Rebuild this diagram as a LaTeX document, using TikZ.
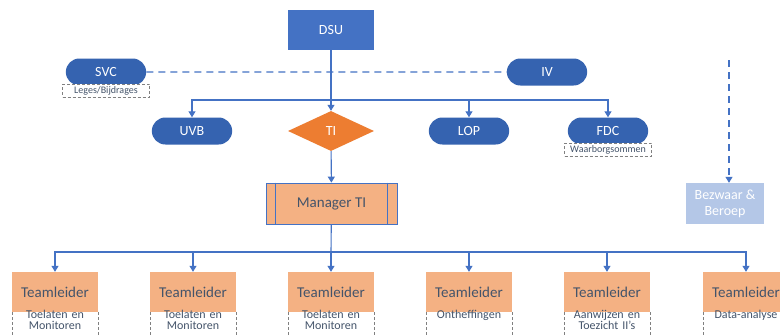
\documentclass[tikz,border=0pt]{standalone}
\usepackage{fontspec}
\setmainfont{Carlito}
\usetikzlibrary{arrows.meta, shapes.geometric, shapes.misc, calc}
\definecolor{dsublue}{HTML}{4472C4}
\definecolor{pillblue}{HTML}{3563B0}
\definecolor{tiorange}{HTML}{ED7D31}
\definecolor{mgrorange}{HTML}{F4B183}
\definecolor{bzwblue}{HTML}{B4C7E7}
\definecolor{tltext}{HTML}{44546A}
\begin{document}
\begin{tikzpicture}[x=1pt, y=-1pt, >={Triangle[length=6pt,width=7pt]},
        line/.style={draw=dsublue, line width=1.1pt},
        pill/.style={rounded rectangle, fill=pillblue, text=white, minimum width=87pt, minimum height=27pt, font=\fontsize{14}{16}\selectfont},
        tag/.style={draw=gray, densely dashed, fill=white, minimum width=87pt, minimum height=13pt, inner sep=0pt, text=tltext, font=\fontsize{10}{10}\selectfont},
        leader/.style={fill=mgrorange, text=tltext, minimum width=86pt, minimum height=40pt, font=\fontsize{15}{17}\selectfont},
        task/.style={text=tltext, text width=86pt, align=center, inner sep=0pt, anchor=north, font=\fontsize{12}{11}\selectfont}]
\clip (0,0) rectangle (780,335);
\fill[white] (0,0) rectangle (780,335);
% top
\node[fill=dsublue, text=white, minimum width=86pt, minimum height=40pt, font=\fontsize{14}{16}\selectfont] (dsu) at (331,30) {DSU};
\node[pill] (svc) at (106,72) {SVC};
\node[pill] (iv) at (547,72) {IV};
\node[tag, anchor=north] (svctag) at (106,84) {Leges/Bijdrages};
\draw[line, dashed, dash pattern=on 7pt off 5pt] (svc) -- (iv);
% second row
\node[pill] (uvb) at (192,131) {UVB};
\node[diamond, fill=tiorange, text=white, minimum width=86pt, minimum height=40pt, aspect=2.2, inner sep=0pt, font=\fontsize{14}{16}\selectfont] (ti) at (331,131) {TI};
\node[pill] (lop) at (469,131) {LOP};
\node[pill] (fdc) at (608,131) {FDC};
\node[tag, anchor=north] (fdctag) at (608,143) {Waarborgsommen};
\coordinate (split) at (331,100);
\draw[line, ->] (dsu) -- (ti);
\draw[line, ->] (split) -| (uvb);
\draw[line, ->] (split) -| (lop);
\draw[line, ->] (split) -| (fdc);
% manager
\node[draw=dsublue, line width=0.8pt, fill=mgrorange, text=tltext, minimum width=131pt, minimum height=41pt, font=\fontsize{15}{17}\selectfont] (mgr) at (331.5,203.5) {Manager TI};
\draw[dsublue, line width=0.8pt] ([xshift=10pt]mgr.north west) -- ([xshift=10pt]mgr.south west);
\draw[dsublue, line width=0.8pt] ([xshift=-10pt]mgr.north east) -- ([xshift=-10pt]mgr.south east);
\draw[line, ->] (ti) -- (mgr);
% bezwaar
\node[fill=bzwblue, text=white, minimum width=78pt, minimum height=41pt, align=center, font=\fontsize{14}{16}\selectfont] (bzw) at (725,203.5) {Bezwaar \&\\Beroep};
\coordinate (bzwin) at (729,60);
\draw[line, dashed, dash pattern=on 7pt off 5pt, ->] (bzwin) -- (bzwin |- bzw.north);
% teamleiders
\coordinate (bus) at (331,252);
\draw[line] (mgr) -- (bus);
\foreach \x/\name/\txt in {55/tla/{Toelaten en\\Monitoren}, 193/tlb/{Toelaten en\\Monitoren}, 331/tlc/{Toelaten en\\Monitoren}, 469/tld/{Ontheffingen}, 607/tle/{Aanwijzen en\\Toezicht II's}, 746/tlf/{Data-analyse}} {
  \node[leader] (\name) at (\x,292) {Teamleider};
  \draw[gray, densely dashed, line width=0.4pt] (\name.south west) -- ++(0,30) (\name.south east) -- ++(0,30);
  \node[task] (\name txt) at ([yshift=2pt]\name.south) {\txt};
  \draw[line, ->] (bus) -| (\name);
}
\end{tikzpicture}
\end{document}
